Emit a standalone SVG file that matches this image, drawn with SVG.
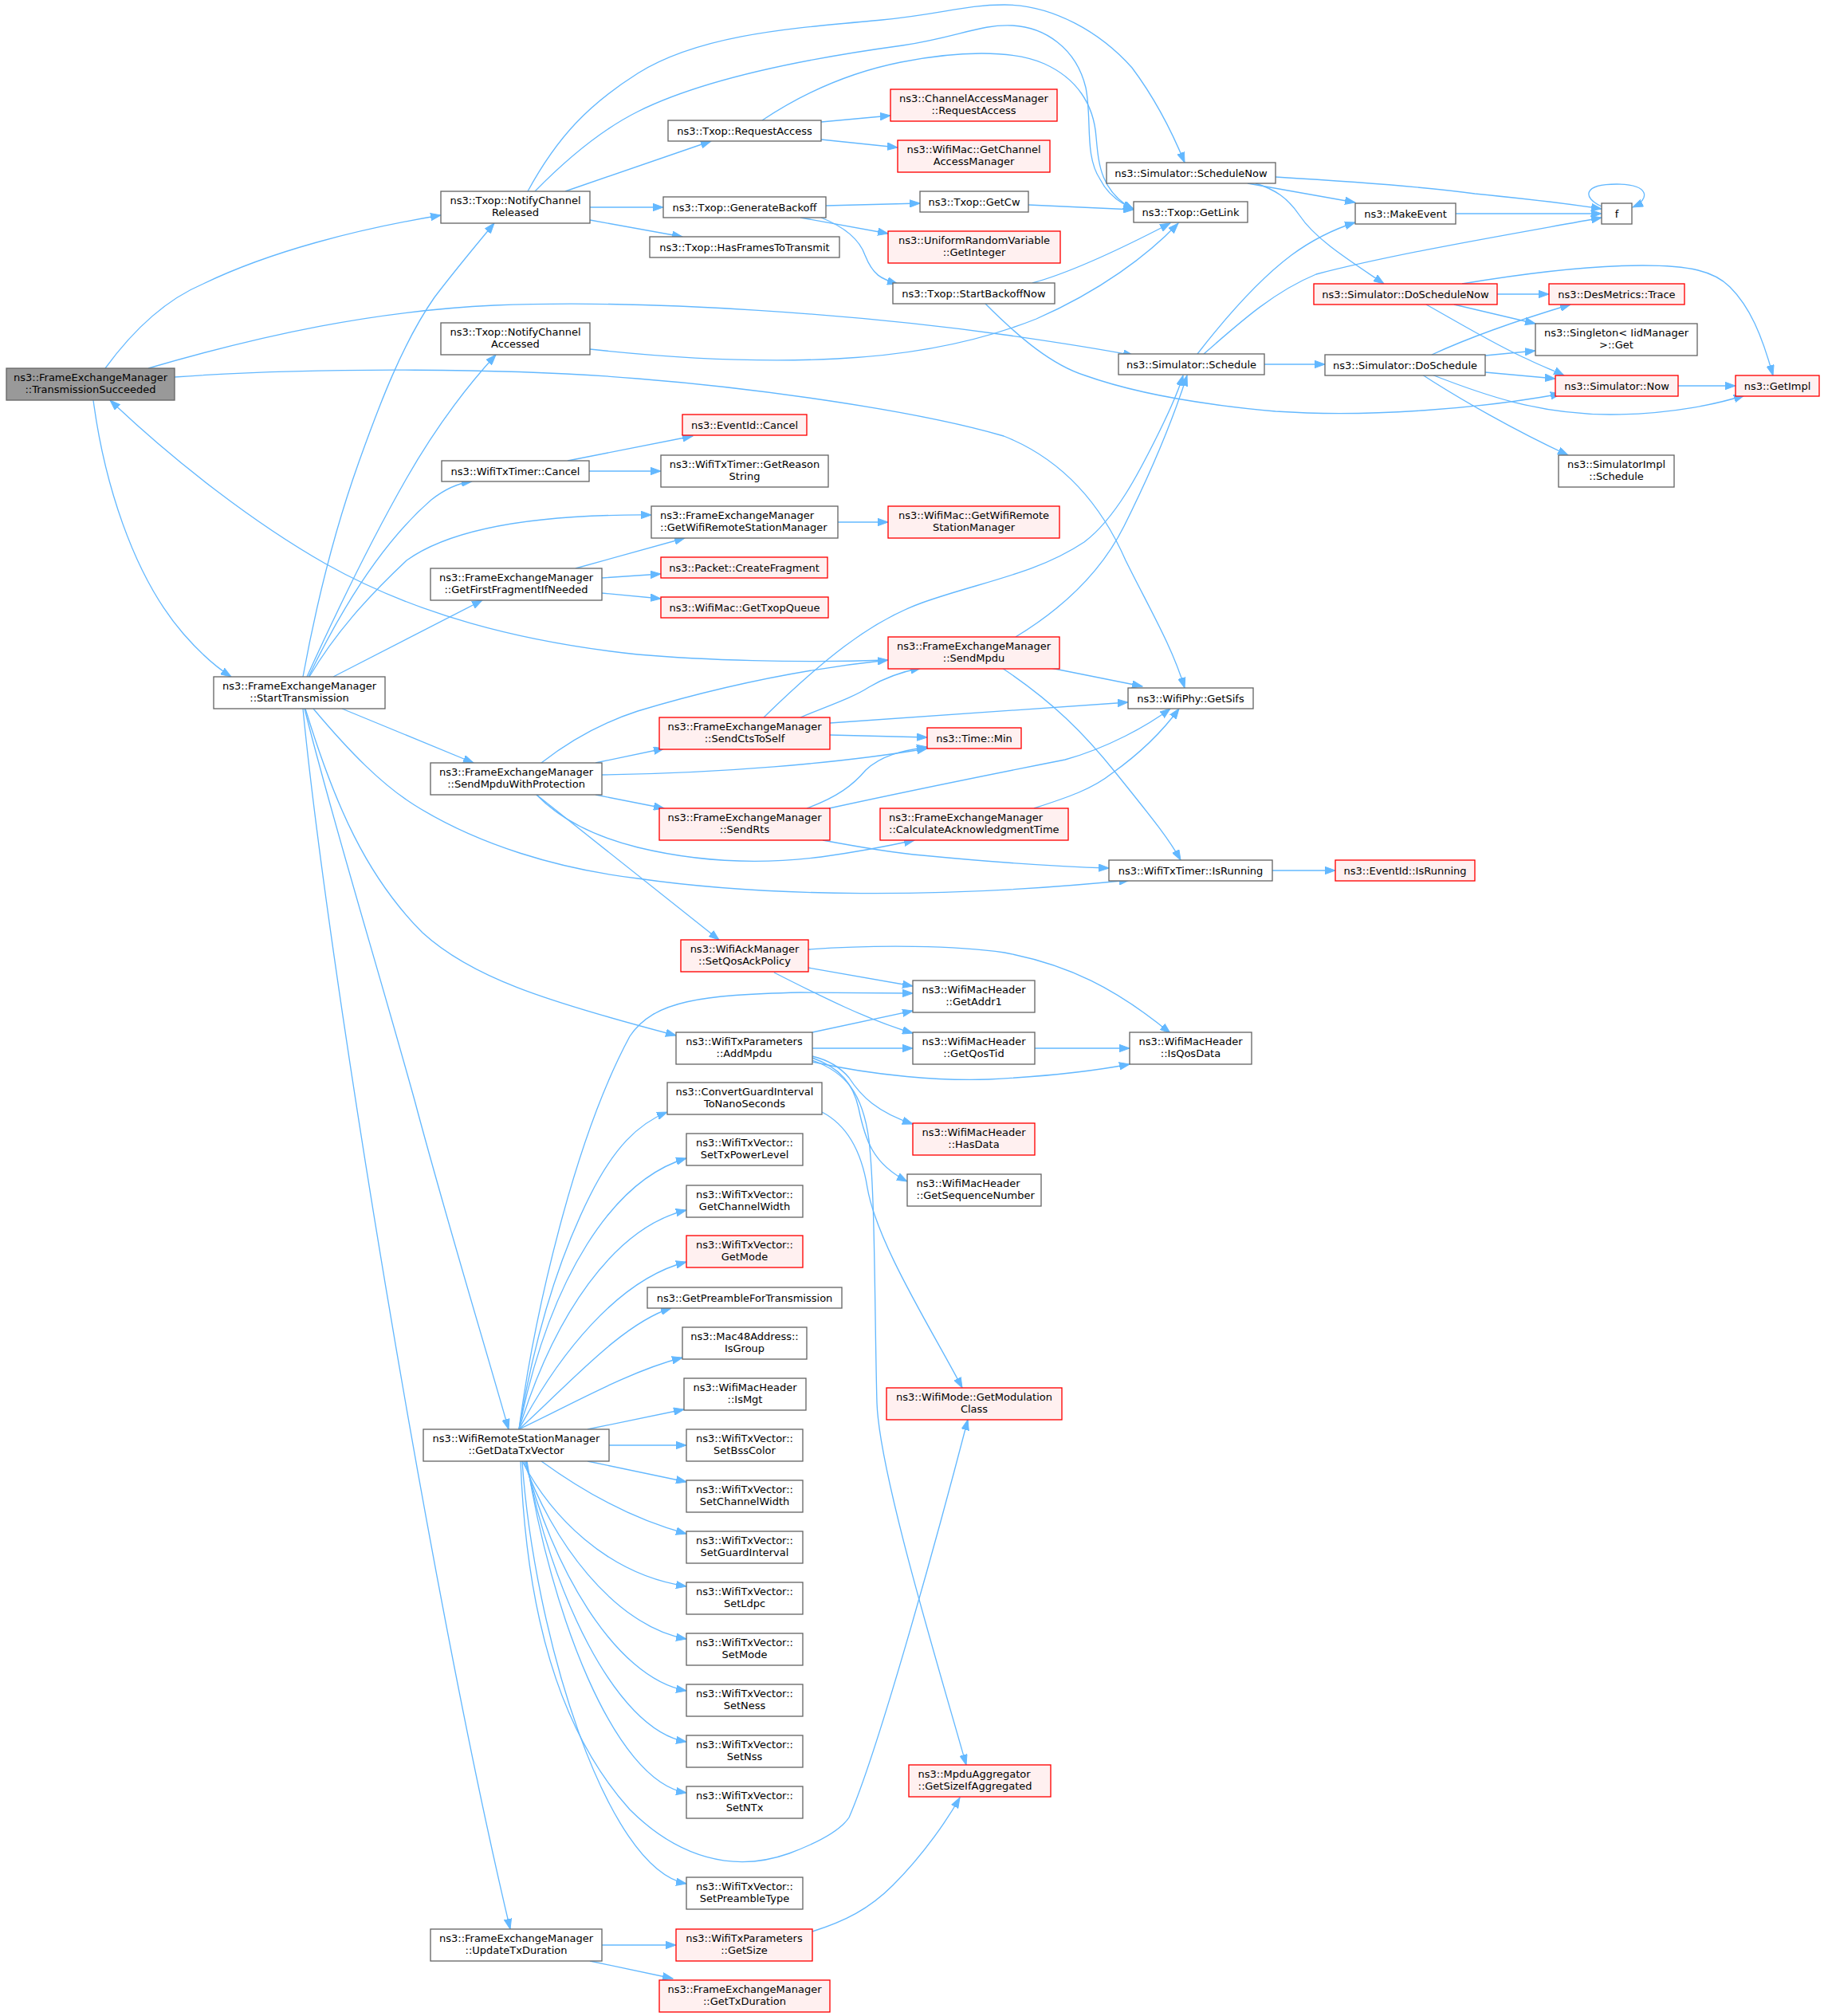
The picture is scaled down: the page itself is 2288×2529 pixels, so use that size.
<svg xmlns="http://www.w3.org/2000/svg" width="2288" height="2529" viewBox="0 0 2288 2529">
<style>
.n rect{fill:#ffffff;stroke:#666666;stroke-width:1.33}
.r rect{fill:#fff0f0;stroke:#ff0000;stroke-width:1.33}
.g rect{fill:#999999;stroke:#666666;stroke-width:1.33}
text{font-family:"DejaVu Sans","Liberation Sans",sans-serif;font-size:13px;fill:#000000;text-anchor:middle}
.l text{text-anchor:start}
#edges path{fill:none;stroke:#63b8ff;stroke-width:1.33;marker-end:url(#a)}
</style>
<defs>
<marker id="a" markerUnits="userSpaceOnUse" markerWidth="14" markerHeight="10" refX="13" refY="5" orient="auto" viewBox="0 0 14 10"><path d="M0,0.3 L13,5 L0,9.7 z" fill="#63b8ff" stroke="#63b8ff" stroke-width="1"/></marker>
</defs>
<rect x="0" y="0" width="2288" height="2529" fill="#ffffff"/>
<g id="edges">
<path d="M132,462 C170,410 210,375 255,356 C340,315 450,287 553,270"/>
<path d="M186,462 C330,420 470,390 620,383 C820,375 1080,395 1260,420 C1330,430 1380,438 1422,446"/>
<path d="M219,473 C400,460 650,462 800,475 C950,487 1150,515 1259,547 C1330,575 1380,630 1412,703 C1440,760 1470,810 1486,863"/>
<path d="M117,502 C130,600 165,720 230,795 C250,818 268,835 290,849"/>
<path d="M1114,828 C1000,832 880,828 800,821 C650,805 520,770 408,707 C320,657 220,580 138,502"/>
<path d="M662,240 C700,170 740,130 800,92 C880,42 1000,35 1106,25 C1180,18 1210,6 1260,6 C1320,6 1380,40 1420,85 C1450,125 1470,165 1486,204"/>
<path d="M671,240 C720,190 760,160 800,140 C880,100 1000,75 1132,57 C1200,47 1230,30 1270,32 C1310,34 1350,60 1362,110 C1370,150 1360,195 1380,225 C1390,245 1405,255 1422,262"/>
<path d="M709,240 L892,177"/>
<path d="M740,260 L832,260"/>
<path d="M740,276 L856,297"/>
<path d="M1030,153 L1117,145"/>
<path d="M1030,175 L1126,185"/>
<path d="M956,151 C1010,115 1070,90 1130,78 C1200,64 1270,62 1310,80 C1350,98 1372,130 1375,172 C1378,205 1380,240 1422,263"/>
<path d="M1036,258 L1154,255"/>
<path d="M1004,273 L1114,293"/>
<path d="M1030,273 C1060,285 1078,300 1085,320 C1095,345 1105,350 1126,356"/>
<path d="M1290,257 L1422,263"/>
<path d="M1295,355 C1350,340 1420,305 1468,280"/>
<path d="M1236,381 C1280,425 1320,458 1361,471 C1420,492 1500,507 1600,516 C1720,524 1860,512 1958,494"/>
<path d="M740,438 C850,450 950,455 1050,450 C1150,445 1230,428 1300,400 C1380,365 1440,320 1478,280"/>
<path d="M1600,222 C1700,228 1800,236 1850,243 C1920,250 1970,256 2009,262"/>
<path d="M1565,230 L1700,254"/>
<path d="M1575,230 C1600,238 1615,248 1630,270 C1650,300 1690,325 1736,356"/>
<path d="M1826,268 L2009,268"/>
<path d="M2009,259 C1985,248 1985,231 2028,231 C2070,231 2070,250 2048,260"/>
<path d="M1502,444 C1540,395 1580,350 1620,320 C1650,298 1675,287 1700,279"/>
<path d="M1510,444 C1560,400 1600,365 1651,344 C1750,318 1900,293 2009,273"/>
<path d="M1586,457 L1662,457"/>
<path d="M1878,369 L1943,369"/>
<path d="M1824,382 L1926,406"/>
<path d="M1789,382 C1830,405 1880,435 1917,451 C1935,460 1950,465 1962,471"/>
<path d="M1834,356 C1900,345 1990,333 2060,333 C2120,333 2150,340 2170,360 C2195,385 2210,420 2224,471"/>
<path d="M1796,445 C1850,420 1910,400 1970,382"/>
<path d="M1863,446 L1926,440"/>
<path d="M1863,467 L1951,475"/>
<path d="M1796,470 C1860,495 1930,520 2020,520 C2100,520 2160,505 2188,496"/>
<path d="M1784,470 C1830,500 1900,540 1967,571"/>
<path d="M2105,484 L2177,484"/>
<path d="M712,578 L869,547"/>
<path d="M739,591 L829,591"/>
<path d="M1051,655 L1114,655"/>
<path d="M722,713 L859,675"/>
<path d="M755,725 L829,720"/>
<path d="M755,744 L829,751"/>
<path d="M380,849 C400,740 425,650 450,580 C475,510 505,430 545,373 C570,340 595,310 620,280"/>
<path d="M385,849 C430,750 470,670 510,600 C550,530 590,480 622,445"/>
<path d="M387,849 C430,760 480,680 541,627 C560,612 575,606 592,604"/>
<path d="M388,849 C420,795 460,750 510,703 C570,660 680,645 817,646"/>
<path d="M418,849 L605,753"/>
<path d="M429,889 L594,957"/>
<path d="M393,889 C440,945 480,985 520,1010 C600,1060 700,1090 800,1102 C960,1125 1180,1128 1417,1104"/>
<path d="M383,889 C420,1010 460,1100 530,1170 C590,1225 680,1255 848,1299"/>
<path d="M382,889 C420,1040 470,1200 520,1380 C560,1530 600,1660 638,1793"/>
<path d="M380,889 C410,1200 540,2000 640,2420"/>
<path d="M679,957 C720,925 760,905 800,892 C900,862 1000,840 1114,828"/>
<path d="M747,957 L833,939"/>
<path d="M755,972 C900,970 1050,958 1163,939"/>
<path d="M747,997 L833,1014"/>
<path d="M673,997 C700,1025 740,1048 800,1063 C870,1080 950,1085 1030,1075 C1080,1068 1120,1060 1147,1054"/>
<path d="M673,997 L902,1179"/>
<path d="M1274,799 C1330,765 1380,720 1410,660 C1440,600 1470,530 1489,471"/>
<path d="M1318,838 L1433,861"/>
<path d="M1257,838 C1320,880 1360,920 1400,970 C1440,1020 1465,1050 1481,1079"/>
<path d="M958,900 C1030,830 1090,780 1157,756 C1230,730 1300,720 1360,680 C1400,650 1430,590 1450,550 C1465,520 1477,495 1484,471"/>
<path d="M1004,900 C1040,885 1070,875 1090,862 C1110,850 1130,843 1155,838"/>
<path d="M1041,907 L1415,881"/>
<path d="M1041,922 L1163,925"/>
<path d="M1012,1014 C1050,1000 1070,985 1086,966 C1105,948 1130,942 1163,937"/>
<path d="M1040,1014 C1150,990 1250,970 1336,953 C1390,938 1440,910 1468,889"/>
<path d="M1032,1054 C1080,1063 1120,1070 1157,1073 C1250,1082 1320,1087 1391,1089"/>
<path d="M1297,1014 C1340,1000 1370,990 1395,970 C1430,945 1460,915 1479,889"/>
<path d="M1596,1092 L1675,1092"/>
<path d="M1014,1214 L1145,1237"/>
<path d="M971,1220 C1030,1250 1090,1280 1145,1296"/>
<path d="M1014,1191 C1100,1185 1200,1186 1260,1195 C1340,1210 1400,1240 1468,1296"/>
<path d="M1019,1295 L1145,1268"/>
<path d="M1019,1315 L1145,1315"/>
<path d="M1298,1315 L1417,1315"/>
<path d="M1019,1332 C1100,1350 1180,1356 1240,1354 C1320,1350 1380,1342 1417,1335"/>
<path d="M1019,1325 C1040,1330 1055,1340 1065,1352 C1080,1375 1100,1395 1145,1410"/>
<path d="M1019,1327 C1055,1340 1070,1360 1077,1390 C1085,1430 1095,1460 1138,1482"/>
<path d="M1019,1330 C1060,1345 1082,1370 1090,1430 C1098,1500 1097,1650 1100,1760 C1103,1850 1180,2100 1212,2214"/>
<path d="M1031,1395 C1060,1410 1080,1440 1088,1490 C1100,1560 1170,1670 1207,1741"/>
<path d="M651,1793 C670,1650 720,1430 790,1300 C820,1255 880,1248 1004,1245 L1145,1246"/>
<path d="M651,1793 C670,1680 700,1580 740,1500 C770,1440 800,1410 837,1395"/>
<path d="M651,1793 C690,1600 770,1480 861,1453"/>
<path d="M651,1793 C695,1650 770,1540 861,1518"/>
<path d="M651,1793 C700,1700 775,1605 861,1583"/>
<path d="M651,1793 C710,1740 780,1660 842,1641"/>
<path d="M651,1793 C720,1760 790,1720 856,1703"/>
<path d="M737,1793 L858,1768"/>
<path d="M764,1813 L861,1813"/>
<path d="M737,1833 L861,1859"/>
<path d="M679,1833 C730,1870 790,1905 861,1924"/>
<path d="M655,1833 C690,1900 760,1975 861,1990"/>
<path d="M657,1833 C690,1930 770,2040 861,2056"/>
<path d="M659,1833 C690,1960 770,2105 861,2121"/>
<path d="M660,1833 C690,1990 770,2170 861,2185"/>
<path d="M661,1833 C690,2020 770,2235 861,2249"/>
<path d="M655,1833 C670,2050 760,2345 861,2363"/>
<path d="M653,1833 C660,2020 700,2170 790,2270 C850,2330 920,2350 990,2325 C1030,2310 1055,2295 1065,2280 C1100,2200 1170,1950 1214,1781"/>
<path d="M755,2440 L848,2440"/>
<path d="M740,2460 L844,2482"/>
<path d="M1019,2423 C1060,2410 1090,2395 1120,2365 C1160,2325 1190,2280 1204,2255"/>
</g>
<g id="TS" class="g"><rect x="8" y="462" width="211" height="40"/><text x="113.5" y="478">ns3::FrameExchangeManager</text><text x="113.5" y="493">::TransmissionSucceeded</text></g>
<g id="NCR" class="n"><rect x="553" y="240" width="187" height="40"/><text x="646.5" y="256">ns3::Txop::NotifyChannel</text><text x="646.5" y="271">Released</text></g>
<g id="NCA" class="n"><rect x="553" y="405" width="187" height="40"/><text x="646.5" y="421">ns3::Txop::NotifyChannel</text><text x="646.5" y="436">Accessed</text></g>
<g id="Cancel" class="n"><rect x="554" y="578" width="185" height="26"/><text x="646.5" y="595.5">ns3::WifiTxTimer::Cancel</text></g>
<g id="GWRSM" class="n l"><rect x="817" y="635" width="234" height="40"/><text x="828" y="651">ns3::FrameExchangeManager</text><text x="828" y="666">::GetWifiRemoteStationManager</text></g>
<g id="GFFIN" class="n"><rect x="540" y="713" width="215" height="40"/><text x="647.5" y="729">ns3::FrameExchangeManager</text><text x="647.5" y="744">::GetFirstFragmentIfNeeded</text></g>
<g id="ST" class="n"><rect x="268" y="849" width="215" height="40"/><text x="375.5" y="865">ns3::FrameExchangeManager</text><text x="375.5" y="880">::StartTransmission</text></g>
<g id="SMWP" class="n"><rect x="540" y="957" width="215" height="40"/><text x="647.5" y="973">ns3::FrameExchangeManager</text><text x="647.5" y="988">::SendMpduWithProtection</text></g>
<g id="GDTV" class="n"><rect x="531" y="1793" width="233" height="40"/><text x="647.5" y="1809">ns3::WifiRemoteStationManager</text><text x="647.5" y="1824">::GetDataTxVector</text></g>
<g id="UTD" class="n"><rect x="540" y="2420" width="215" height="40"/><text x="647.5" y="2436">ns3::FrameExchangeManager</text><text x="647.5" y="2451">::UpdateTxDuration</text></g>
<g id="RA" class="n"><rect x="838" y="151" width="192" height="26"/><text x="934" y="168.5">ns3::Txop::RequestAccess</text></g>
<g id="GB" class="n"><rect x="832" y="247" width="204" height="26"/><text x="934" y="264.5">ns3::Txop::GenerateBackoff</text></g>
<g id="HFT" class="n"><rect x="815" y="297" width="238" height="26"/><text x="934" y="314.5">ns3::Txop::HasFramesToTransmit</text></g>
<g id="ECancel" class="r"><rect x="856" y="520" width="156" height="26"/><text x="934" y="537.5">ns3::EventId::Cancel</text></g>
<g id="GRS" class="n"><rect x="829" y="571" width="210" height="40"/><text x="934" y="587">ns3::WifiTxTimer::GetReason</text><text x="934" y="602">String</text></g>
<g id="CF" class="r"><rect x="829" y="699" width="209" height="26"/><text x="933.5" y="716.5">ns3::Packet::CreateFragment</text></g>
<g id="GTQ" class="r"><rect x="829" y="749" width="210" height="26"/><text x="934" y="766.5">ns3::WifiMac::GetTxopQueue</text></g>
<g id="SCTS" class="r"><rect x="827" y="900" width="214" height="40"/><text x="934" y="916">ns3::FrameExchangeManager</text><text x="934" y="931">::SendCtsToSelf</text></g>
<g id="SRts" class="r"><rect x="827" y="1014" width="214" height="40"/><text x="934" y="1030">ns3::FrameExchangeManager</text><text x="934" y="1045">::SendRts</text></g>
<g id="SQAP" class="r"><rect x="854" y="1179" width="160" height="40"/><text x="934" y="1195">ns3::WifiAckManager</text><text x="934" y="1210">::SetQosAckPolicy</text></g>
<g id="AddMpdu" class="n"><rect x="848" y="1295" width="171" height="40"/><text x="933.5" y="1311">ns3::WifiTxParameters</text><text x="933.5" y="1326">::AddMpdu</text></g>
<g id="CGI" class="n"><rect x="837" y="1358" width="194" height="40"/><text x="934" y="1374">ns3::ConvertGuardInterval</text><text x="934" y="1389">ToNanoSeconds</text></g>
<g id="STPL" class="n"><rect x="861" y="1422" width="146" height="40"/><text x="934" y="1438">ns3::WifiTxVector::</text><text x="934" y="1453">SetTxPowerLevel</text></g>
<g id="GCW" class="n"><rect x="861" y="1487" width="146" height="40"/><text x="934" y="1503">ns3::WifiTxVector::</text><text x="934" y="1518">GetChannelWidth</text></g>
<g id="GM" class="r"><rect x="861" y="1550" width="146" height="40"/><text x="934" y="1566">ns3::WifiTxVector::</text><text x="934" y="1581">GetMode</text></g>
<g id="GPFT" class="n"><rect x="812" y="1615" width="244" height="26"/><text x="934" y="1632.5">ns3::GetPreambleForTransmission</text></g>
<g id="IsGroup" class="n"><rect x="856" y="1665" width="156" height="40"/><text x="934" y="1681">ns3::Mac48Address::</text><text x="934" y="1696">IsGroup</text></g>
<g id="IsMgt" class="n"><rect x="858" y="1729" width="153" height="40"/><text x="934.5" y="1745">ns3::WifiMacHeader</text><text x="934.5" y="1760">::IsMgt</text></g>
<g id="SBC" class="n"><rect x="861" y="1793" width="146" height="40"/><text x="934" y="1809">ns3::WifiTxVector::</text><text x="934" y="1824">SetBssColor</text></g>
<g id="SCW" class="n"><rect x="861" y="1857" width="146" height="40"/><text x="934" y="1873">ns3::WifiTxVector::</text><text x="934" y="1888">SetChannelWidth</text></g>
<g id="SGI" class="n"><rect x="861" y="1921" width="146" height="40"/><text x="934" y="1937">ns3::WifiTxVector::</text><text x="934" y="1952">SetGuardInterval</text></g>
<g id="SLdpc" class="n"><rect x="861" y="1985" width="146" height="40"/><text x="934" y="2001">ns3::WifiTxVector::</text><text x="934" y="2016">SetLdpc</text></g>
<g id="SMode" class="n"><rect x="861" y="2049" width="146" height="40"/><text x="934" y="2065">ns3::WifiTxVector::</text><text x="934" y="2080">SetMode</text></g>
<g id="SNess" class="n"><rect x="861" y="2113" width="146" height="40"/><text x="934" y="2129">ns3::WifiTxVector::</text><text x="934" y="2144">SetNess</text></g>
<g id="SNss" class="n"><rect x="861" y="2177" width="146" height="40"/><text x="934" y="2193">ns3::WifiTxVector::</text><text x="934" y="2208">SetNss</text></g>
<g id="SNTx" class="n"><rect x="861" y="2241" width="146" height="40"/><text x="934" y="2257">ns3::WifiTxVector::</text><text x="934" y="2272">SetNTx</text></g>
<g id="SPT" class="n"><rect x="861" y="2355" width="146" height="40"/><text x="934" y="2371">ns3::WifiTxVector::</text><text x="934" y="2386">SetPreambleType</text></g>
<g id="GetSize" class="r"><rect x="848" y="2420" width="171" height="40"/><text x="933.5" y="2436">ns3::WifiTxParameters</text><text x="933.5" y="2451">::GetSize</text></g>
<g id="GTD" class="r"><rect x="827" y="2484" width="214" height="40"/><text x="934" y="2500">ns3::FrameExchangeManager</text><text x="934" y="2515">::GetTxDuration</text></g>
<g id="CAMRA" class="r"><rect x="1117" y="112" width="209" height="40"/><text x="1221.5" y="128">ns3::ChannelAccessManager</text><text x="1221.5" y="143">::RequestAccess</text></g>
<g id="GCAM" class="r"><rect x="1126" y="176" width="191" height="40"/><text x="1221.5" y="192">ns3::WifiMac::GetChannel</text><text x="1221.5" y="207">AccessManager</text></g>
<g id="GetCw" class="n"><rect x="1154" y="240" width="136" height="26"/><text x="1222" y="257.5">ns3::Txop::GetCw</text></g>
<g id="URV" class="r"><rect x="1114" y="290" width="216" height="40"/><text x="1222" y="306">ns3::UniformRandomVariable</text><text x="1222" y="321">::GetInteger</text></g>
<g id="SBN" class="n"><rect x="1120" y="355" width="203" height="26"/><text x="1221.5" y="372.5">ns3::Txop::StartBackoffNow</text></g>
<g id="WMGWRSM" class="r"><rect x="1114" y="635" width="215" height="40"/><text x="1221.5" y="651">ns3::WifiMac::GetWifiRemote</text><text x="1221.5" y="666">StationManager</text></g>
<g id="SendMpdu" class="r"><rect x="1114" y="799" width="215" height="40"/><text x="1221.5" y="815">ns3::FrameExchangeManager</text><text x="1221.5" y="830">::SendMpdu</text></g>
<g id="TimeMin" class="r"><rect x="1163" y="913" width="118" height="26"/><text x="1222" y="930.5">ns3::Time::Min</text></g>
<g id="CAT" class="r l"><rect x="1104" y="1014" width="236" height="40"/><text x="1115" y="1030">ns3::FrameExchangeManager</text><text x="1115" y="1045">::CalculateAcknowledgmentTime</text></g>
<g id="GetAddr1" class="n"><rect x="1145" y="1230" width="153" height="40"/><text x="1221.5" y="1246">ns3::WifiMacHeader</text><text x="1221.5" y="1261">::GetAddr1</text></g>
<g id="GetQosTid" class="n"><rect x="1145" y="1295" width="153" height="40"/><text x="1221.5" y="1311">ns3::WifiMacHeader</text><text x="1221.5" y="1326">::GetQosTid</text></g>
<g id="HasData" class="r"><rect x="1145" y="1409" width="153" height="40"/><text x="1221.5" y="1425">ns3::WifiMacHeader</text><text x="1221.5" y="1440">::HasData</text></g>
<g id="GSN" class="n l"><rect x="1138" y="1473" width="168" height="40"/><text x="1149.5" y="1489">ns3::WifiMacHeader</text><text x="1149.5" y="1504">::GetSequenceNumber</text></g>
<g id="GMC" class="r"><rect x="1112" y="1741" width="220" height="40"/><text x="1222" y="1757">ns3::WifiMode::GetModulation</text><text x="1222" y="1772">Class</text></g>
<g id="MpduAgg" class="r l"><rect x="1140" y="2214" width="178" height="40"/><text x="1151.5" y="2230">ns3::MpduAggregator</text><text x="1151.5" y="2245">::GetSizeIfAggregated</text></g>
<g id="SchedNow" class="n"><rect x="1388" y="204" width="212" height="26"/><text x="1494" y="221.5">ns3::Simulator::ScheduleNow</text></g>
<g id="GetLink" class="n"><rect x="1422" y="253" width="143" height="26"/><text x="1493.5" y="270.5">ns3::Txop::GetLink</text></g>
<g id="Schedule" class="n"><rect x="1403" y="444" width="183" height="26"/><text x="1494.5" y="461.5">ns3::Simulator::Schedule</text></g>
<g id="GetSifs" class="n"><rect x="1415" y="863" width="157" height="26"/><text x="1493.5" y="880.5">ns3::WifiPhy::GetSifs</text></g>
<g id="IsRunning" class="n"><rect x="1391" y="1079" width="205" height="26"/><text x="1493.5" y="1096.5">ns3::WifiTxTimer::IsRunning</text></g>
<g id="IsQosData" class="n"><rect x="1417" y="1295" width="153" height="40"/><text x="1493.5" y="1311">ns3::WifiMacHeader</text><text x="1493.5" y="1326">::IsQosData</text></g>
<g id="MakeEvent" class="n"><rect x="1700" y="255" width="126" height="26"/><text x="1763" y="272.5">ns3::MakeEvent</text></g>
<g id="DSN" class="r"><rect x="1648" y="356" width="230" height="26"/><text x="1763" y="373.5">ns3::Simulator::DoScheduleNow</text></g>
<g id="DS" class="n"><rect x="1662" y="445" width="201" height="26"/><text x="1762.5" y="462.5">ns3::Simulator::DoSchedule</text></g>
<g id="EIR" class="r"><rect x="1675" y="1079" width="175" height="26"/><text x="1762.5" y="1096.5">ns3::EventId::IsRunning</text></g>
<g id="f" class="n"><rect x="2009" y="255" width="38" height="26"/><text x="2028" y="272.5">f</text></g>
<g id="Trace" class="r"><rect x="1943" y="356" width="170" height="26"/><text x="2028" y="373.5">ns3::DesMetrics::Trace</text></g>
<g id="Singleton" class="n"><rect x="1926" y="406" width="203" height="40"/><text x="2027.5" y="422">ns3::Singleton&lt; IidManager</text><text x="2027.5" y="437">&gt;::Get</text></g>
<g id="Now" class="r"><rect x="1951" y="471" width="154" height="26"/><text x="2028" y="488.5">ns3::Simulator::Now</text></g>
<g id="SImplSched" class="n"><rect x="1955" y="571" width="145" height="40"/><text x="2027.5" y="587">ns3::SimulatorImpl</text><text x="2027.5" y="602">::Schedule</text></g>
<g id="GetImpl" class="r"><rect x="2177" y="471" width="105" height="26"/><text x="2229.5" y="488.5">ns3::GetImpl</text></g>
</svg>
